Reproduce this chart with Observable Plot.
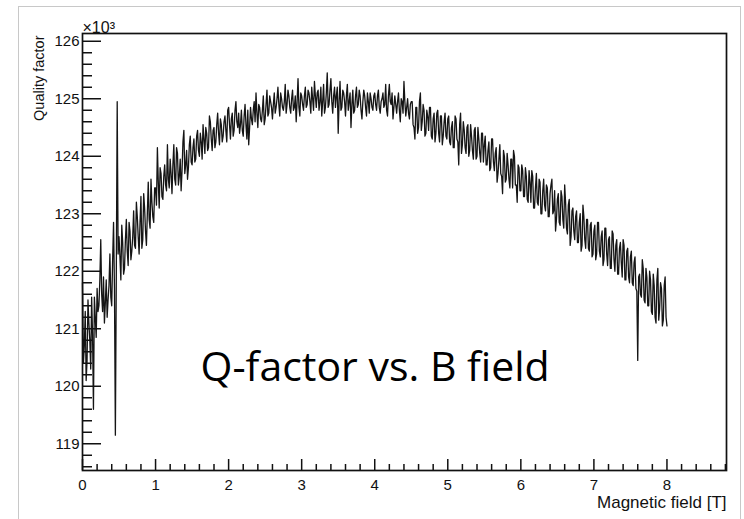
<!DOCTYPE html>
<html>
<head>
<meta charset="utf-8">
<script src="https://cdn.jsdelivr.net/npm/d3@7"></script>
<script src="https://cdn.jsdelivr.net/npm/@observablehq/plot@0.6"></script>
<style>
  html, body { margin: 0; padding: 0; background: #fff; }
  #wrap { position: relative; width: 744px; height: 519px; overflow: hidden; }
  #slide { position: absolute; left: 18px; top: 6px; width: 723px; height: 600px; border: 1px solid #c8c8c8; box-sizing: border-box; }
  #chart { position: absolute; left: 0; top: 0; }
</style>
</head>
<body>
<div id="wrap"><div id="slide"></div><div id="chart"></div></div>
<script>
// Magnetic field sampling step [T]: samples at 0, 0.025, 0.05 ... (qFactorK)
// and half-way samples at 0.0125, 0.0375 ... (qFactorKMid)
const fieldStep = 0.025;
// Quality factor in units of 10^3
const qFactorK = [
  121.80,120.70,120.10,121.50,120.80,121.55,119.60,121.20,121.70,121.40,122.55,121.30,121.10,121.85,121.50,122.30,121.40,122.85,119.15,124.95,
  122.60,121.85,122.50,122.05,122.90,122.10,122.70,122.35,123.05,122.40,122.95,122.30,123.30,122.55,123.10,122.45,123.55,122.75,123.20,122.85,
  123.45,124.15,123.10,123.70,123.25,123.85,123.40,123.60,123.95,123.35,124.20,123.50,124.05,123.65,123.40,124.25,123.70,124.10,123.80,124.35,
  123.85,124.30,123.95,124.45,124.00,124.25,124.55,124.05,124.40,124.15,124.60,124.10,124.50,124.25,124.75,124.20,124.55,124.35,124.70,124.25,
  124.85,124.30,124.75,124.45,124.95,124.50,124.40,124.80,124.35,124.90,124.30,124.20,124.85,124.55,124.95,125.10,124.50,124.85,124.60,125.05,
  124.65,125.15,124.75,124.95,124.65,125.10,124.85,125.20,124.70,125.00,124.80,125.25,124.90,125.05,124.75,125.15,124.85,124.60,125.35,124.70,
  125.05,124.80,125.20,124.90,125.10,124.75,125.00,125.30,124.85,125.15,124.95,124.70,125.25,124.85,125.45,124.90,125.35,124.75,125.20,125.05,
  124.40,125.30,124.85,125.10,124.70,125.25,124.95,124.50,125.15,124.80,125.20,124.90,125.05,124.65,125.15,124.85,125.10,124.75,125.00,124.80,
  125.10,124.80,125.15,124.75,125.00,124.85,125.25,124.70,125.25,124.90,124.65,125.05,124.75,125.10,124.60,124.95,125.30,124.70,125.00,124.65,
  124.95,124.55,124.30,124.85,124.50,125.10,124.60,124.80,124.40,124.70,124.85,124.35,124.65,124.25,124.75,124.40,124.70,124.20,124.60,124.35,
  124.65,124.25,124.50,124.15,124.70,124.30,123.85,124.75,124.20,124.45,124.05,124.55,124.10,124.35,123.95,124.50,124.00,124.30,123.90,124.40,
  124.20,123.85,124.10,123.75,124.30,123.90,124.05,123.55,123.95,123.70,123.35,124.00,123.60,123.85,123.45,123.95,124.10,123.50,123.20,123.80,
  123.40,123.75,123.30,123.65,123.20,123.55,123.75,123.10,123.45,123.20,123.60,123.00,123.40,123.15,123.50,122.95,123.35,123.60,123.05,122.70,
  123.25,122.85,123.40,122.90,123.50,122.75,123.15,122.45,123.05,122.70,122.95,122.50,122.85,122.35,123.15,122.55,122.90,122.40,122.80,122.25,
  122.70,122.20,122.85,122.35,122.60,122.10,122.75,122.30,122.55,122.05,122.70,122.20,122.45,121.95,122.40,122.15,122.55,121.85,122.35,121.90,
  122.25,121.80,122.15,121.70,120.45,121.95,121.55,122.05,121.45,121.90,121.40,121.85,121.25,121.75,121.10,122.05,121.35,121.70,121.15,121.90,
  121.05
];
const qFactorKMid = [
  120.40,121.30,120.45,121.10,120.30,120.90,121.55,120.85,121.30,121.85,121.60,121.90,121.45,121.20,121.75,121.55,122.20,121.70,121.90,122.30,
  122.25,122.80,121.95,122.55,122.35,122.85,122.20,122.60,122.45,123.20,122.60,122.85,122.40,123.35,122.70,123.00,122.90,123.60,122.95,123.45,
  123.15,123.55,123.80,123.30,123.65,123.50,124.20,123.45,123.70,123.85,123.60,124.15,123.50,123.95,123.75,124.45,123.85,123.60,124.20,123.90,
  124.15,123.90,124.35,124.10,124.40,123.95,124.30,124.50,124.10,124.70,124.30,124.45,124.15,124.55,124.40,124.65,124.25,124.60,124.45,124.80,
  124.55,124.65,124.35,124.80,124.60,124.75,124.55,124.45,124.70,124.55,124.80,124.50,124.65,124.80,124.60,124.75,124.90,124.65,124.80,124.55,
  124.90,124.70,125.05,124.85,124.90,124.75,125.00,124.90,125.10,124.85,124.95,124.75,125.15,124.85,125.00,124.80,125.05,124.95,124.85,125.10,
  124.90,125.05,124.85,125.15,124.95,125.20,124.80,125.05,125.10,124.80,125.20,124.95,124.75,125.10,124.85,125.15,124.95,125.05,124.85,125.20,
  124.95,124.80,125.15,124.95,125.05,124.80,125.10,124.90,124.75,125.05,124.85,125.15,124.80,124.95,125.05,124.70,124.95,125.10,124.85,125.05,
  124.90,125.05,124.85,124.95,125.10,124.90,124.80,125.05,124.95,125.10,124.85,124.90,124.95,124.80,125.00,124.75,124.95,124.85,124.75,124.90,
  124.95,124.50,124.85,124.40,124.95,124.45,124.90,124.35,124.80,124.45,124.85,124.30,124.75,124.40,124.80,124.25,124.70,124.35,124.75,124.30,
  124.70,124.20,124.60,124.15,124.65,124.25,124.55,124.05,124.60,124.15,124.50,124.00,124.55,124.10,124.45,123.95,124.50,124.05,124.40,123.90,
  124.35,123.85,124.25,123.80,124.30,123.75,124.15,123.70,124.20,123.65,124.10,123.55,124.05,123.60,123.95,123.45,124.00,123.50,123.85,123.40,
  123.85,123.30,123.80,123.25,123.75,123.20,123.65,123.10,123.70,123.15,123.55,123.00,123.60,123.05,123.45,122.95,123.50,123.00,123.40,122.90,
  123.35,122.80,123.30,122.75,123.20,122.65,123.25,122.60,123.10,122.55,123.05,122.50,123.00,122.45,122.95,122.40,122.90,122.35,122.85,122.30,
  122.80,122.30,122.85,122.25,122.70,122.20,122.75,122.10,122.60,122.05,122.65,122.00,122.55,121.95,122.50,121.90,122.45,121.85,122.40,121.80,
  122.35,121.75,122.25,121.65,121.90,121.60,122.20,121.50,122.05,121.40,122.00,121.30,121.95,121.20,121.85,121.15,121.80,121.05,121.75,121.20
];
// Axis tick values
const xTickLabels = [0, 1, 2, 3, 4, 5, 6, 7, 8];
const yTickLabels = [119, 120, 121, 122, 123, 124, 125, 126];

const data = [];
qFactorK.forEach((q, i) => {
  data.push({b: i * fieldStep, q});
  if (i < qFactorKMid.length) data.push({b: (i + 0.5) * fieldStep, q: qFactorKMid[i]});
});

const xMinor = d3.range(0.2, 8.85, 0.2).filter(v => Math.abs(v - Math.round(v)) > 0.05);
const yMinor = d3.range(118.6, 126.05, 0.2).filter(v => Math.abs(v - Math.round(v)) > 0.05);

const ink = "#111";
const chart = Plot.plot({
  width: 744,
  height: 519,
  marginLeft: 82,
  marginRight: 18,
  marginTop: 33,
  marginBottom: 49,
  style: {fontFamily: "'Liberation Sans', Arial, Helvetica, sans-serif", fontSize: "15px", background: "transparent", color: ink},
  x: {domain: [0, 8.815]},
  y: {domain: [118.535, 126.135]},
  marks: [
    Plot.line(data, {x: "b", y: "q", stroke: "#151515", strokeWidth: 1.3}),
    Plot.axisY(yTickLabels, {tickSize: -19, tickFormat: () => "", label: null, stroke: ink, strokeWidth: 1.5}),
    Plot.axisY(yMinor, {tickSize: -10, tickFormat: () => "", label: null, stroke: ink, strokeWidth: 1.5}),
    Plot.axisY(yTickLabels, {tickSize: 0, tickPadding: 3, tickFormat: d => String(d), label: null, fontSize: 15, fill: ink}),
    Plot.axisX(xTickLabels, {tickSize: -11, tickFormat: () => "", label: null, stroke: ink, strokeWidth: 1.5}),
    Plot.axisX(xMinor, {tickSize: -6, tickFormat: () => "", label: null, stroke: ink, strokeWidth: 1.5}),
    Plot.axisX(xTickLabels, {tickSize: 0, tickPadding: 9, tickFormat: d => String(d), label: null, fontSize: 15, fill: ink}),
    Plot.frame({stroke: ink, strokeWidth: 1.7}),
    Plot.text(["Magnetic field [T]"], {frameAnchor: "bottom-right", dy: 37, lineAnchor: "bottom", textAnchor: "end", fontSize: 17, fill: ink}),
    Plot.text(["Quality factor"], {frameAnchor: "top-left", dx: -39, dy: 2, rotate: -90, textAnchor: "end", lineAnchor: "bottom", fontSize: 14.5, fill: ink}),
    Plot.text(["×10³"], {frameAnchor: "top-left", dx: 0, dy: -1, textAnchor: "start", lineAnchor: "bottom", fontSize: 16, fill: ink}),
    Plot.text(["Q-factor vs. B field"], {frameAnchor: "top-left", dx: 118, dy: 347, textAnchor: "start", lineAnchor: "bottom", fontSize: 41, fontFamily: "'Open Sans', 'Noto Sans', sans-serif", fill: "#000"})
  ]
});
document.getElementById("chart").appendChild(chart);
</script>
</body>
</html>
